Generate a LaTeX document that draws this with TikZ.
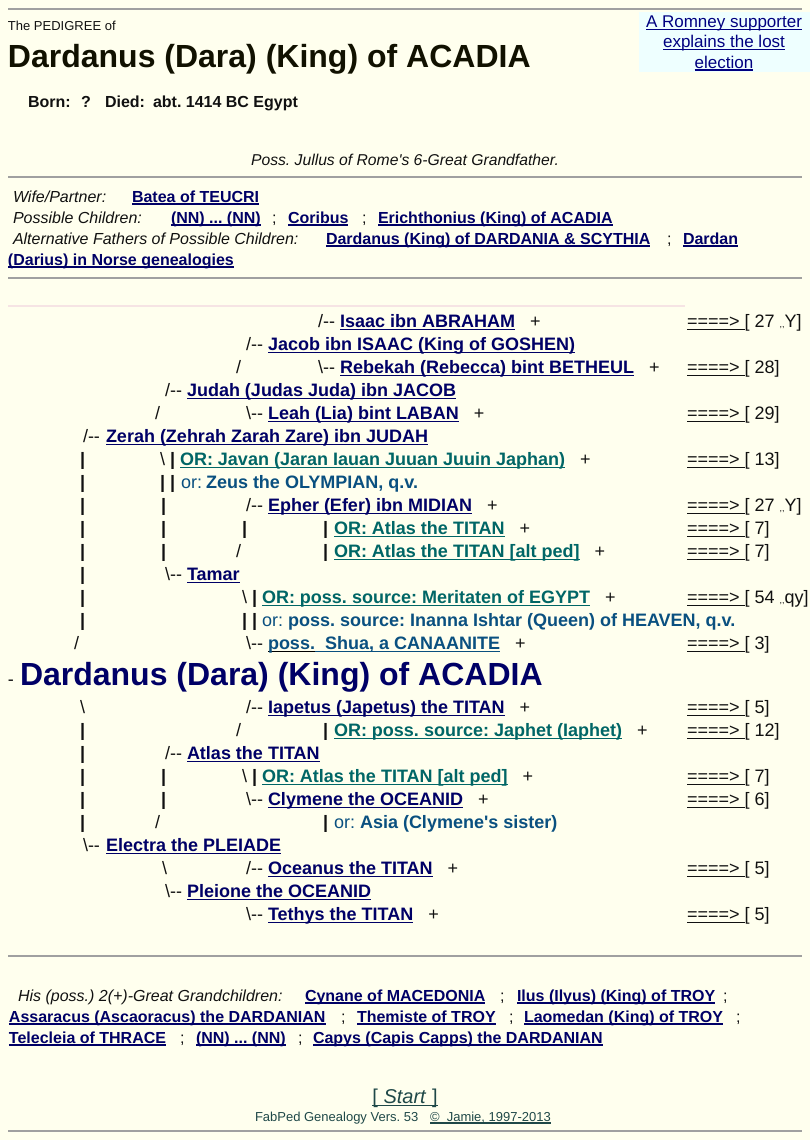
\documentclass[tikz,border=0pt]{standalone}
\usepackage{fontspec}
\setmainfont{Liberation Sans}[Ligatures=TeXOff]
\frenchspacing

\definecolor{paper}{HTML}{FFFFEE}
\definecolor{boxbg}{HTML}{EEFFFF}
\definecolor{ink}{HTML}{111111}
\definecolor{titleink}{HTML}{111100}
\definecolor{lnav}{HTML}{000066}
\definecolor{lnavb}{HTML}{000080}
\definecolor{lteal}{HTML}{006666}
\definecolor{lblue}{HTML}{0A5080}
\definecolor{footc}{HTML}{1F4848}
\definecolor{hrc}{HTML}{A0A0A0}
\definecolor{hrpink}{HTML}{F6E4E4}

% font size in points, line spacing equal to size
\newcommand\fs[1]{\fontsize{#1}{#1}\selectfont}
% underlined link text
\newcommand\lnk[1]{\setbox0=\hbox{#1}\rlap{\rule[-2.8pt]{\wd0}{1.2pt}}\box0}
\newcommand\lnks[1]{\setbox0=\hbox{#1}\rlap{\rule[-2.5pt]{\wd0}{1.1pt}}\box0}
% two hyphens, kept apart
\newcommand\dd{-{}-}
\newcommand\bs{\textbackslash}

\tikzset{
  tx/.style={anchor=base west, inner sep=0pt, outer sep=0pt, text=ink, font=\fs{18}},
  bar/.style={tx, font=\fs{18}\bfseries},
  nm/.style={tx, text=lnav, font=\fs{18}\bfseries},
  orl/.style={tx, text=lteal, font=\fs{18}\bfseries},
  orb/.style={tx, text=lblue, font=\fs{18}\bfseries},
  orw/.style={tx, text=lblue, font=\fs{18}},
  lab/.style={tx, font=\fs{16}\itshape},
  lk/.style={tx, text=lnav, font=\fs{16}\bfseries},
  semi/.style={tx, font=\fs{16}},
  hr/.style={draw=hrc, line width=1.6pt},
}

% "+" placed after a name
\newcommand\plus[2]{\node[tx] (#1) at ([xshift=15pt]#2.base east) {+};}
% reference column on the right
\newcommand\refnode[3]{\node[tx] (#1) at (687,#2) {\lnk{====>\ }[ #3};}

\begin{document}
\begin{tikzpicture}[x=1pt, y=-1pt]
\useasboundingbox (0,0) rectangle (810,1140);
\fill[paper] (0,0) rectangle (810,1140);

% ---------- header ----------
\fill[boxbg] (639,12) rectangle (810,72);
\draw[hr] (8,9) -- (802,9);
\node[tx, anchor=base, text=lnavb, font=\fs{17}] (rom1) at (724,28) {\lnks{A Romney supporter}};
\node[tx, anchor=base, text=lnavb, font=\fs{17}] (rom2) at (724,48) {\lnks{explains the lost}};
\node[tx, anchor=base, text=lnavb, font=\fs{17}] (rom3) at (724,68) {\lnks{election}};

\node[tx, font=\fs{13}] (pedof) at (8,31) {The PEDIGREE of};
\node[tx, text=titleink, font=\fs{32}\bfseries] (title) at (8,67) {Dardanus (Dara) (King) of ACADIA};
\node[tx, font=\fs{16}\bfseries] (born) at (28,107) {Born:};
\node[tx, font=\fs{16}\bfseries] (bornq) at (81,107) {?};
\node[tx, font=\fs{16}\bfseries] (died) at (105,107) {Died:};
\node[tx, font=\fs{16}\bfseries] (diedv) at (153,107) {abt. 1414 BC Egypt};

\node[tx, anchor=base, font=\fs{15.7}\itshape] (poss) at (405,165) {Poss. Jullus of Rome's 6-Great Grandfather.};
\draw[hr] (8,177) -- (802,177);

% ---------- family ----------
\node[lab] (wifel) at (13,202) {Wife/Partner:};
\node[lk] (wife) at (132,202) {\lnks{Batea of TEUCRI}};
\node[lab] (kidsl) at (13,223) {Possible Children:};
\node[lk] (kid1) at (171,223) {\lnks{(NN) ... (NN)}};
\node[semi] (ks1) at (272,223) {;};
\node[lk] (kid2) at (288,223) {\lnks{Coribus}};
\node[semi] (ks2) at (362,223) {;};
\node[lk] (kid3) at (378,223) {\lnks{Erichthonius (King) of ACADIA}};
\node[lab] (altl) at (13,244) {Alternative Fathers of Possible Children:};
\node[lk] (alt1) at (326,244) {\lnks{Dardanus (King) of DARDANIA \& SCYTHIA}};
\node[semi] (as1) at (667,244) {;};
\node[lk] (alt2a) at (683,244) {\lnks{Dardan}};
\node[lk] (alt2b) at (8,265) {\lnks{(Darius) in Norse genealogies}};
\draw[hr] (8,278) -- (802,278);

% ---------- ancestor chart ----------
\draw[draw=hrpink, line width=1.2pt] (8,306) -- (685,306);

% Isaac
\node[tx] (c1) at (318,327) {/\dd};
\node[nm] (isaac) at (340,327) {\lnk{Isaac ibn ABRAHAM}};
\plus{isaacp}{isaac}
\refnode{isaacr}{327}{27 {\fs{9},,}Y]}
% Jacob
\node[tx] (c2) at (246,350) {/\dd};
\node[nm] (jacob) at (268,350) {\lnk{Jacob ibn ISAAC (King of GOSHEN)}};
% Rebekah
\node[tx] (c3a) at (236,373) {/};
\node[tx] (c3b) at (318,373) {\bs\dd};
\node[nm] (rebekah) at (340,373) {\lnk{Rebekah (Rebecca) bint BETHEUL}};
\plus{rebekahp}{rebekah}
\refnode{rebekahr}{373}{28]}
% Judah
\node[tx] (c4) at (165,396) {/\dd};
\node[nm] (judah) at (187,396) {\lnk{Judah (Judas Juda) ibn JACOB}};
% Leah
\node[tx] (c5a) at (155,419) {/};
\node[tx] (c5b) at (246,419) {\bs\dd};
\node[nm] (leah) at (268,419) {\lnk{Leah (Lia) bint LABAN}};
\plus{leahp}{leah}
\refnode{leahr}{419}{29]}
% Zerah
\node[tx] (c6) at (83,442) {/\dd};
\node[nm] (zerah) at (106,442) {\lnk{Zerah (Zehrah Zarah Zare) ibn JUDAH}};
% Javan
\node[bar] (c7a) at (80,465) {|};
\node[tx] (c7b) at (160,465) {\bs\ \textbf{|}};
\node[orl] (javan) at (180,465) {\lnk{OR: Javan (Jaran Iauan Juuan Juuin Japhan)}};
\plus{javanp}{javan}
\refnode{javanr}{465}{13]}
% Zeus
\node[bar] (c8a) at (80,488) {|};
\node[bar] (c8b) at (160,488) {| |};
\node[orw] (c8or) at (181,488) {or:};
\node[orb] (zeus) at (206,488) {Zeus the OLYMPIAN, q.v.};
% Epher
\node[bar] (c9a) at (80,511) {|};
\node[bar] (c9b) at (161,511) {|};
\node[tx] (c9c) at (246,511) {/\dd};
\node[nm] (epher) at (268,511) {\lnk{Epher (Efer) ibn MIDIAN}};
\plus{epherp}{epher}
\refnode{epherr}{511}{27 {\fs{9},,}Y]}
% Atlas (OR)
\node[bar] (c10a) at (80,534) {|};
\node[bar] (c10b) at (161,534) {|};
\node[bar] (c10c) at (242,534) {|};
\node[bar] (c10d) at (323,534) {|};
\node[orl] (atlas1) at (334,534) {\lnk{OR: Atlas the TITAN}};
\plus{atlas1p}{atlas1}
\refnode{atlas1r}{534}{7]}
% Atlas alt ped (OR)
\node[bar] (c11a) at (80,557) {|};
\node[bar] (c11b) at (161,557) {|};
\node[tx] (c11c) at (236,557) {/};
\node[bar] (c11d) at (323,557) {|};
\node[orl] (atlas2) at (334,557) {\lnk{OR: Atlas the TITAN [alt ped]}};
\plus{atlas2p}{atlas2}
\refnode{atlas2r}{557}{7]}
% Tamar
\node[bar] (c12a) at (80,580) {|};
\node[tx] (c12b) at (165,580) {\bs\dd};
\node[nm] (tamar) at (187,580) {\lnk{Tamar}};
% Meritaten
\node[bar] (c13a) at (80,603) {|};
\node[tx] (c13b) at (242,603) {\bs\ \textbf{|}};
\node[orl] (merit) at (262,603) {\lnk{OR: poss. source: Meritaten of EGYPT}};
\plus{meritp}{merit}
\refnode{meritr}{603}{54 {\fs{9},,}qy]}
% Inanna
\node[bar] (c14a) at (80,626) {|};
\node[bar] (c14b) at (242,626) {| |};
\node[orw] (c14or) at (262,626) {or:};
\node[orb] (inanna) at (288,626) {poss. source: Inanna Ishtar (Queen) of HEAVEN, q.v.};
% Shua
\node[tx] (c15a) at (74,649) {/};
\node[tx] (c15b) at (246,649) {\bs\dd};
\node[nm] (shua) at (268,649) {\lnk{\color{lblue}poss.}\lnk{\ \ Shua, a CANAANITE}};
\plus{shuap}{shua}
\refnode{shuar}{649}{3]}

% the subject
\node[tx] (c16) at (8,685) {-};
\node[tx, text=lnav, font=\fs{32}\bfseries] (dardanus) at (20,685) {Dardanus (Dara) (King) of ACADIA};

% Iapetus
\node[tx] (c17a) at (80,713) {\bs};
\node[tx] (c17b) at (246,713) {/\dd};
\node[nm] (iapetus) at (268,713) {\lnk{Iapetus (Japetus) the TITAN}};
\plus{iapetusp}{iapetus}
\refnode{iapetusr}{713}{5]}
% Japhet (OR)
\node[bar] (c18a) at (80,736) {|};
\node[tx] (c18b) at (236,736) {/};
\node[bar] (c18c) at (323,736) {|};
\node[orl] (japhet) at (334,736) {\lnk{OR: poss. source: Japhet (Iaphet)}};
\plus{japhetp}{japhet}
\refnode{japhetr}{736}{12]}
% Atlas
\node[bar] (c19a) at (80,759) {|};
\node[tx] (c19b) at (165,759) {/\dd};
\node[nm] (atlas) at (187,759) {\lnk{Atlas the TITAN}};
% Atlas alt ped (OR)
\node[bar] (c20a) at (80,782) {|};
\node[bar] (c20b) at (161,782) {|};
\node[tx] (c20c) at (242,782) {\bs\ \textbf{|}};
\node[orl] (atlas3) at (262,782) {\lnk{OR: Atlas the TITAN [alt ped]}};
\plus{atlas3p}{atlas3}
\refnode{atlas3r}{782}{7]}
% Clymene
\node[bar] (c21a) at (80,805) {|};
\node[bar] (c21b) at (161,805) {|};
\node[tx] (c21c) at (246,805) {\bs\dd};
\node[nm] (clymene) at (268,805) {\lnk{Clymene the OCEANID}};
\plus{clymenep}{clymene}
\refnode{clymener}{805}{6]}
% Asia
\node[bar] (c22a) at (80,828) {|};
\node[tx] (c22b) at (155,828) {/};
\node[bar] (c22c) at (323,828) {|};
\node[orw] (c22or) at (334,828) {or:};
\node[orb] (asia) at (360,828) {Asia (Clymene's sister)};
% Electra
\node[tx] (c23) at (83,851) {\bs\dd};
\node[nm] (electra) at (106,851) {\lnk{Electra the PLEIADE}};
% Oceanus
\node[tx] (c24a) at (162,874) {\bs};
\node[tx] (c24b) at (246,874) {/\dd};
\node[nm] (oceanus) at (268,874) {\lnk{Oceanus the TITAN}};
\plus{oceanusp}{oceanus}
\refnode{oceanusr}{874}{5]}
% Pleione
\node[tx] (c25) at (165,897) {\bs\dd};
\node[nm] (pleione) at (187,897) {\lnk{Pleione the OCEANID}};
% Tethys
\node[tx] (c26) at (246,920) {\bs\dd};
\node[nm] (tethys) at (268,920) {\lnk{Tethys the TITAN}};
\plus{tethysp}{tethys}
\refnode{tethysr}{920}{5]}

\draw[hr] (8,956) -- (802,956);

% ---------- descendants ----------
\node[lab] (gcl) at (18,1001) {His (poss.) 2(+)-Great Grandchildren:};
\node[lk] (g1) at (305,1001) {\lnks{Cynane of MACEDONIA}};
\node[semi] (gs1) at (500,1001) {;};
\node[lk] (g2) at (517,1001) {\lnks{Ilus (Ilyus) (King) of TROY}};
\node[semi] (gs2) at (723,1001) {;};
\node[lk] (g3) at (9,1022) {\lnks{Assaracus (Ascaoracus) the DARDANIAN}};
\node[semi] (gs3) at (341,1022) {;};
\node[lk] (g4) at (357,1022) {\lnks{Themiste of TROY}};
\node[semi] (gs4) at (509,1022) {;};
\node[lk] (g5) at (524,1022) {\lnks{Laomedan (King) of TROY}};
\node[semi] (gs5) at (736,1022) {;};
\node[lk] (g6) at (9,1043) {\lnks{Telecleia of THRACE}};
\node[semi] (gs6) at (180,1043) {;};
\node[lk] (g7) at (196,1043) {\lnks{(NN) ... (NN)}};
\node[semi] (gs7) at (298,1043) {;};
\node[lk] (g8) at (313,1043) {\lnks{Capys (Capis Capps) the DARDANIAN}};

% ---------- footer ----------
\node[tx, anchor=base, text=footc, font=\fs{20}] (start) at (405,1103) {\lnk{[ \textit{Start} ]}};
\node[tx, text=footc, font=\fs{13}] (fab) at (255,1121) {FabPed Genealogy Vers. 53};
\node[tx, text=footc, font=\fs{13}] (copy) at (430,1121) {\lnks{©\ \ Jamie, 1997-2013}};
\draw[hr] (8,1131) -- (802,1131);
\end{tikzpicture}
\end{document}
